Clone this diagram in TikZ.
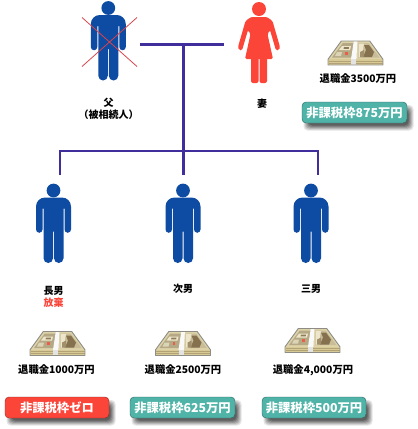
\documentclass[tikz,border=0pt]{standalone}
\usepackage{fontspec}
\setmainfont{Noto Sans CJK JP}
\usetikzlibrary{calc}
\definecolor{manblue}{HTML}{0E4BA2}
\definecolor{womanred}{HTML}{FB4539}
\definecolor{linkblue}{HTML}{3F2E9C}
\definecolor{badgeteal}{HTML}{4FB3A8}
\definecolor{crossred}{HTML}{D9434B}
\definecolor{paper}{HTML}{DDD2A8}
\definecolor{noteleft}{HTML}{B5A985}
\definecolor{noteright}{HTML}{C9BC98}
\definecolor{brownpatch}{HTML}{86714E}
\definecolor{cream}{HTML}{EDE6CB}
\definecolor{edgegray}{HTML}{8D8D86}
\definecolor{sidecol}{HTML}{D8CA94}
\tikzset{
  link/.style={draw=linkblue,line width=2.4pt},
  lbl/.style={font=\fontsize{10}{12}\selectfont\bfseries,align=center,inner sep=0pt,text=black},
  amount/.style={font=\fontsize{10.3}{12}\selectfont\bfseries,inner sep=0pt,text=black},
  badgetext/.style={font=\fontsize{12.3}{14}\selectfont\bfseries,text=white,inner sep=0pt},
  man/.pic={
    \fill[manblue] (0,7) circle (6.9);
    \fill[manblue] (-17.5,46) -- (-17.5,23) arc[start angle=180,end angle=270,radius=9]
      -- (8.5,14) arc[start angle=270,end angle=360,radius=9]
      -- (17.5,46) arc[start angle=0,end angle=180,radius=3.25]
      -- (11,25) -- (10,25) -- (10,74.75) arc[start angle=0,end angle=180,radius=4.75]
      -- (0.5,48) -- (-0.5,48) -- (-0.5,74.75) arc[start angle=0,end angle=180,radius=4.75]
      -- (-10,25) -- (-11,25) -- (-11,46) arc[start angle=0,end angle=180,radius=3.25] -- cycle;
  },
  woman/.pic={
    \fill[womanred] (0,7) circle (7);
    \fill[womanred,rounded corners=1.5pt]
      (-8,15) -- (8,15) -- (13.5,19) -- (21,45) -- (20,48) -- (17,48.5) -- (11,28) -- (8.5,32)
      -- (14,57) -- (-14,57) -- (-8.5,32) -- (-11,28) -- (-17,48.5) -- (-20,48) -- (-21,45) -- (-13.5,19) -- cycle;
    \fill[womanred,rounded corners=2pt] (-8,55) rectangle (-0.5,81);
    \fill[womanred,rounded corners=2pt] (0.5,55) rectangle (8,81);
  },
  bundle/.pic={
    % top face
    \fill[paper] (0,18.3) -- (13.3,0) -- (41.7,0) -- (55,18.3) -- cycle;
    % left note
    \fill[noteleft] (4,16.5) -- (14.8,2) -- (26,2) -- (24,16.5) -- cycle;
    \fill[cream] (14,5) -- (23,5) -- (22,9) -- (11,9) -- cycle;
    \fill[brownpatch!80!noteleft] (16,6) -- (21,6) -- (20.7,7.8) -- (15.6,7.8) -- cycle;
    \fill[cream!70!noteleft] (9,11) -- (14,11) -- (13,15) -- (7,15) -- cycle;
    \fill[womanred!75!noteleft] (17,10.5) rectangle (19.5,13.5);
    % right note
    \fill[noteright] (30,2) -- (40.5,2) -- (51.5,16.5) -- (30,16.5) -- cycle;
    \fill[cream] (30.5,2.5) -- (36,2.5) -- (33.5,16) -- (30.5,16) -- cycle;
    \fill[brownpatch] (36,4) -- (41,4) -- (46,11) -- (44,16) -- (35,16) -- (38,9) -- cycle;
    \fill[brownpatch!60!noteright] (32,11) -- (36,9) -- (36,16) -- (32,16) -- cycle;
    % side
    \fill[sidecol] (0,18.3) rectangle (55,24);
    \draw[brownpatch!45!sidecol,line width=0.5pt] (0.5,20.2) -- (54.5,20.2) (0.5,22.2) -- (54.5,22.2);
    % paper strap
    \fill[white!95!gray] (25.8,0) -- (29.4,0) -- (28.4,18.3) -- (23,18.3) -- cycle;
    \fill[gray!22] (23,18.3) rectangle (28.4,24);
    % outline
    \draw[edgegray,line width=0.9pt,line join=round] (0,18.3) -- (13.3,0) -- (41.7,0) -- (55,18.3) -- (55,24) -- (0,24) -- cycle;
  }
}
\newcommand{\badgeshape}[6]{% x1,y1,x2,y2,colour,name
  \foreach \k/\o in {0/0.10,1/0.12,2/0.14,3/0.16,4/0.18,5/0.20}{
    \fill[black,opacity=\o,rounded corners=4pt]
      ({#1+4-2.5+\k},{#2+4-1+\k}) rectangle ({#3+4+2.5-\k},{#4+4+3.5-\k});
  }
  \fill[#5,rounded corners=4pt] (#1,#2) rectangle (#3,#4);
  \draw[black!45!#5,line width=0.4pt,rounded corners=4pt] (#1,#2) rectangle (#3,#4);
  \coordinate (#6) at ({(#1+#3)/2},{(#2+#4)/2});
}
\begin{document}
\begin{tikzpicture}[x=1pt,y=-1pt]
\useasboundingbox (0,0) rectangle (418,429);
% connector points
\coordinate (leftend) at (140,44.5);
\coordinate (rightend) at (224,44.5);
\coordinate (spouse) at (183.5,44.5);
\coordinate (hub) at (183.5,151);
\coordinate (c1) at (60,175);
\coordinate (c2) at (183.5,175);
\coordinate (c3) at (318,175);
\draw[link] (leftend) -- (rightend);
\draw[link] (spouse) -- (hub);
\draw[link] (c1) |- (hub) -| (c3);
\draw[link] (hub) -- (c2);
% people
\pic at (108.3,1) {man};
\draw[crossred,line width=0.8pt] (82,17.5) -- (137,66.5) (82,66.5) -- (137,17.5);
\pic at (259,2) {woman};
\pic at (53.5,183.5) {man};
\pic at (183,183.5) {man};
\pic at (311,183.5) {man};
% labels
\node[lbl] (father) at (108.5,109) {父\\（被相続人）};
\node[lbl] (wife) at (262,103.5) {妻};
\node[lbl] (son1) at (53.5,296.5) {長男\\\textcolor{womanred}{放棄}};
\node[lbl] (son2) at (183,288.5) {次男};
\node[lbl] (son3) at (311,288.5) {三男};
% money
\pic at (328,41) {bundle};
\pic at (30,331.5) {bundle};
\pic at (155.5,331.5) {bundle};
\pic at (285,328.5) {bundle};
\node[amount] (a0) at (358,79) {退職金3500万円};
\node[amount] (a1) at (56.5,370) {退職金1000万円};
\node[amount] (a2) at (183,370) {退職金2500万円};
\node[amount] (a3) at (313,370) {退職金4,000万円};
% badges
\badgeshape{302}{102}{407}{123}{badgeteal}{b0}
\badgeshape{5}{397}{109}{418}{womanred}{b1}
\badgeshape{130}{397}{235}{418}{badgeteal}{b2}
\badgeshape{262}{397}{366}{418}{badgeteal}{b3}
\node[badgetext] (t0) at (b0) {非課税枠875万円};
\node[badgetext] (t1) at (b1) {非課税枠ゼロ};
\node[badgetext] (t2) at (b2) {非課税枠625万円};
\node[badgetext] (t3) at (b3) {非課税枠500万円};
\end{tikzpicture}
\end{document}
